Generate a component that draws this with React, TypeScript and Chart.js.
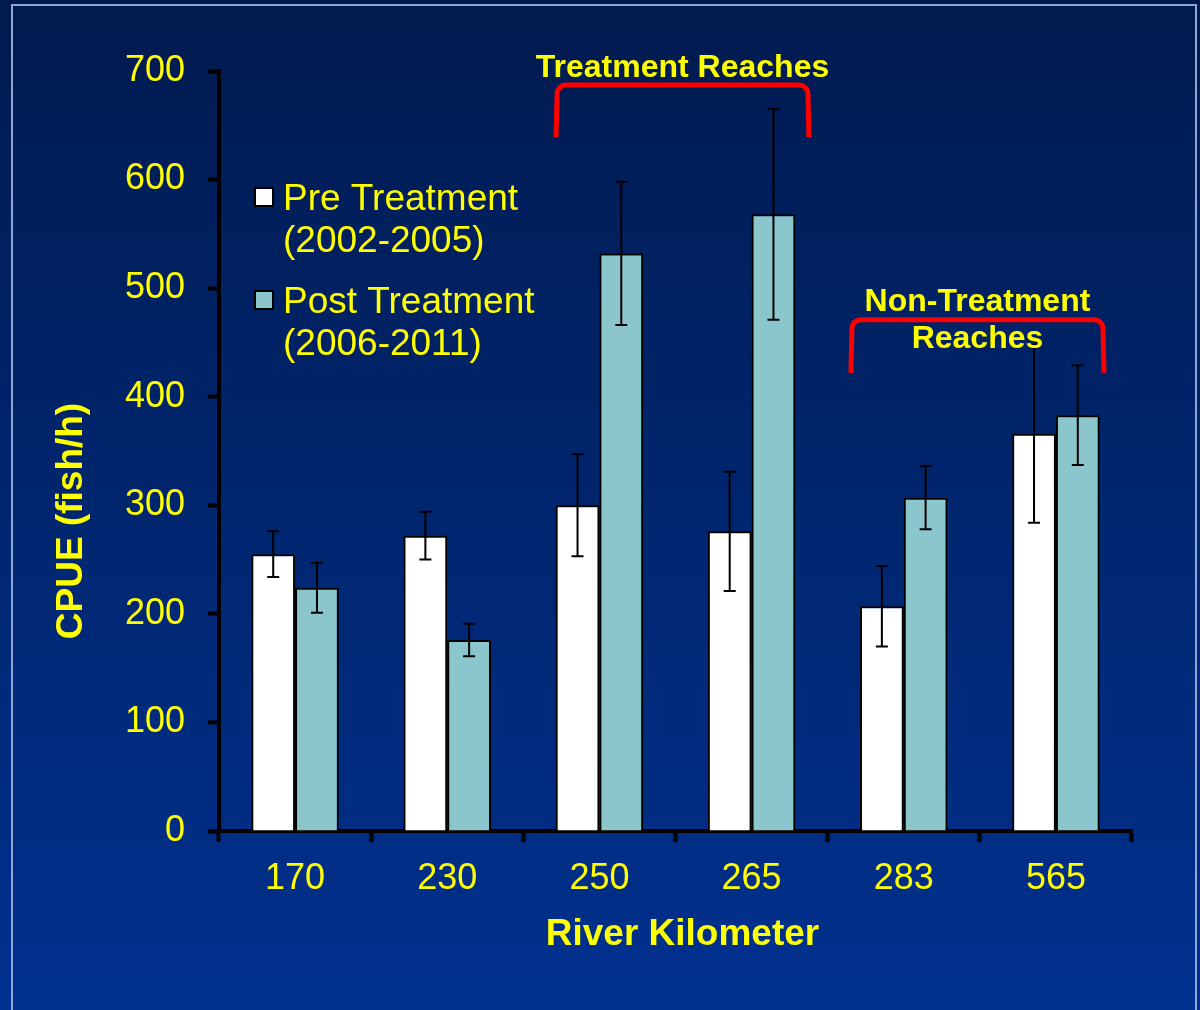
import React, { useEffect, useRef } from "react";
import { Chart, registerables } from "chart.js";

Chart.register(...registerables);

// ---------------- data ----------------
const categories = ["170", "230", "250", "265", "283", "565"];
const preValues = [255, 272, 300, 276, 207, 366];
const preErrors = [21, 22, 47, 55, 37, 82];
const postValues = [224, 176, 532, 568, 307, 383];
const postErrors = [23, 15, 66, 97, 29, 46];
const seriesLabels = ["Pre Treatment (2002-2005)", "Post Treatment (2006-2011)"];
const legendLines = [
  ["Pre Treatment", "(2002-2005)"],
  ["Post Treatment", "(2006-2011)"],
];
const yMin = 0;
const yMax = 700;
const yStep = 100;
const xTitle = "River Kilometer";
const yTitle = "CPUE (fish/h)";
const bracketTexts = [["Treatment Reaches"], ["Non-Treatment", "Reaches"]];
const bracketFirst = [2, 4];
const bracketLast = [3, 5];

// ---------------- styles ----------------
const FONT = "'Liberation Sans', Arial, sans-serif";
const YELLOW = "#ffff00";
const WHITE = "#ffffff";
const TEAL = "#8cc6cd";

const bracketGeom = [
  { top: 687, leg: 639, leftOff: -0.285, rightOff: 0.377, lineOffsets: [-8] },
  { top: 471, leg: 422, leftOff: -0.347, rightOff: 0.316, lineOffsets: [-9, 28] },
];

const decorPlugin = {
  id: "decor",
  beforeDraw(chart: any) {
    const { ctx, width, height } = chart;
    ctx.save();
    const g = ctx.createLinearGradient(0, 0, 0, height);
    g.addColorStop(0, "#011a4f");
    g.addColorStop(0.5, "#00266f");
    g.addColorStop(1, "#00318f");
    ctx.fillStyle = g;
    ctx.fillRect(0, 0, width, height);
    ctx.strokeStyle = "#8fa5d6";
    ctx.lineWidth = 2;
    ctx.strokeRect(12, 5, 1184, height + 20);
    ctx.restore();
  },
  afterDatasetsDraw(chart: any) {
    const { ctx } = chart;
    const y = chart.scales.y;
    ctx.save();
    ctx.strokeStyle = "#000000";
    ctx.lineWidth = 2;
    chart.data.datasets.forEach((ds: any, di: number) => {
      const meta = chart.getDatasetMeta(di);
      meta.data.forEach((bar: any, i: number) => {
        const v = ds.data[i];
        const e = ds.errors[i];
        const x = bar.x;
        const yt = y.getPixelForValue(v + e);
        const yb = y.getPixelForValue(v - e);
        ctx.beginPath();
        ctx.moveTo(x, yt);
        ctx.lineTo(x, yb);
        ctx.moveTo(x - 6, yt);
        ctx.lineTo(x + 6, yt);
        ctx.moveTo(x - 6, yb);
        ctx.lineTo(x + 6, yb);
        ctx.stroke();
      });
    });
    ctx.restore();
  },
  afterDraw(chart: any) {
    const { ctx, chartArea } = chart;
    const x = chart.scales.x;
    const y = chart.scales.y;
    ctx.save();

    // legend
    const colors = chart.data.datasets.map((d: any) => d.backgroundColor);
    ctx.font = `37px ${FONT}`;
    ctx.textAlign = "left";
    ctx.textBaseline = "alphabetic";
    legendLines.forEach((lines, i) => {
      const base = chartArea.top + 139 + i * 103;
      ctx.fillStyle = colors[i];
      ctx.fillRect(chartArea.left + 36, base - 22, 18, 18);
      ctx.strokeStyle = "#000";
      ctx.lineWidth = 2;
      ctx.strokeRect(chartArea.left + 36, base - 22, 18, 18);
      ctx.fillStyle = YELLOW;
      lines.forEach((t, j) => ctx.fillText(t, chartArea.left + 64, base + j * 42));
    });

    // axis titles
    ctx.font = `bold 37px ${FONT}`;
    ctx.fillStyle = YELLOW;
    ctx.textAlign = "center";
    ctx.textBaseline = "middle";
    ctx.fillText(xTitle, (chartArea.left + chartArea.right) / 2 + 7, chartArea.bottom + 104);
    ctx.save();
    ctx.translate(72, chartArea.bottom - 310);
    ctx.rotate(-Math.PI / 2);
    ctx.fillText(yTitle, 0, 0);
    ctx.restore();

    // brackets
    const cw = (chartArea.right - chartArea.left) / categories.length;
    bracketGeom.forEach((b, i) => {
      const left = x.getPixelForValue(bracketFirst[i]) + b.leftOff * cw;
      const right = x.getPixelForValue(bracketLast[i]) + b.rightOff * cw;
      const top = y.getPixelForValue(b.top);
      const leg = y.getPixelForValue(b.leg);
      const r = 9;
      ctx.strokeStyle = "#ff0000";
      ctx.lineWidth = 5;
      ctx.beginPath();
      ctx.moveTo(left, leg);
      ctx.lineTo(left + 1, top + r);
      ctx.arcTo(left + 1, top, left + 1 + r, top, r);
      ctx.lineTo(right - 1 - r, top);
      ctx.arcTo(right - 1, top, right - 1, top + r, r);
      ctx.lineTo(right, leg);
      ctx.stroke();
      ctx.font = `bold 32px ${FONT}`;
      ctx.fillStyle = YELLOW;
      ctx.textAlign = "center";
      ctx.textBaseline = "alphabetic";
      bracketTexts[i].forEach((t, j) => {
        ctx.fillText(t, (left + right) / 2, top + b.lineOffsets[j]);
      });
    });
    ctx.restore();
  },
};

export default function App() {
  const ref = useRef<HTMLCanvasElement | null>(null);
  useEffect(() => {
    if (!ref.current) return;
    const chart = new Chart(ref.current, {
      type: "bar",
      data: {
        labels: categories,
        datasets: [
          {
            label: seriesLabels[0],
            data: preValues,
            errors: preErrors,
            backgroundColor: WHITE,
            borderColor: "#000000",
            borderWidth: 2,
          } as any,
          {
            label: seriesLabels[1],
            data: postValues,
            errors: postErrors,
            backgroundColor: TEAL,
            borderColor: "#000000",
            borderWidth: 2,
          } as any,
        ],
      },
      options: {
        animation: false,
        responsive: false,
        devicePixelRatio: 1,
        datasets: { bar: { categoryPercentage: 0.575, barPercentage: 1.0 } },
        layout: { padding: { left: 0, top: 71, right: 68, bottom: 0 } },
        plugins: { legend: { display: false }, tooltip: { enabled: false } },
        scales: {
          x: {
            z: 1,
            grid: {
              drawOnChartArea: false,
              color: "#000",
              tickColor: "#000",
              tickLength: 11,
              tickWidth: 4,
              offset: true,
            },
            border: { display: true, color: "#000", width: 4 },
            ticks: { color: YELLOW, font: { family: FONT, size: 36 }, padding: 15, maxRotation: 0 },
            afterFit: (s: any) => {
              s.height = 179;
            },
          },
          y: {
            min: yMin,
            max: yMax,
            grid: {
              drawOnChartArea: false,
              color: "#000",
              tickColor: "#000",
              tickLength: 11,
              tickWidth: 4,
            },
            border: { display: true, color: "#000", width: 4 },
            ticks: { stepSize: yStep, color: YELLOW, font: { family: FONT, size: 36 }, padding: 23 },
            afterFit: (s: any) => {
              s.width = 219;
            },
          },
        },
      },
      plugins: [decorPlugin],
    } as any);
    return () => chart.destroy();
  }, []);
  return (
    <div style={{ position: "fixed", left: 0, top: 0, width: 1200, height: 1010 }}>
      <canvas ref={ref} width={1200} height={1010} />
    </div>
  );
}
